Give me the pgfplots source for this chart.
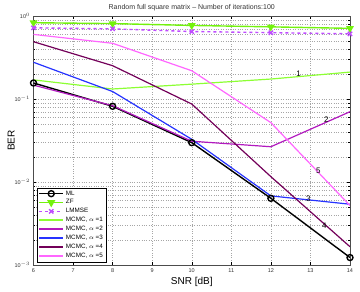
\documentclass[border=0pt]{standalone}
\usepackage{pgfplots}
\pgfplotsset{compat=1.18}
\usepackage{fontspec}
\setmainfont{Liberation Sans}
\definecolor{cZF}{rgb}{0.45,0.95,0.05}
\definecolor{cLM}{rgb}{0.75,0.3,1.0}
\definecolor{cM1}{rgb}{0.55,1.0,0.2}
\definecolor{cM2}{rgb}{0.7,0.1,0.75}
\definecolor{cM3}{rgb}{0.15,0.2,1.0}
\definecolor{cM4}{rgb}{0.45,0.0,0.35}
\definecolor{cM5}{rgb}{1.0,0.4,1.0}
\begin{document}
\begin{tikzpicture}
\begin{axis}[
  scale only axis,
  width=316.5pt, height=249pt,
  ymode=log,
  xmin=6, xmax=14, ymin=1e-3, ymax=1,
  xtick={6,7,...,14},
  ytick={1e-3,1e-2,1e-1,1},
  yticklabels={10$^{-3}$,10$^{-2}$,10$^{-1}$,10$^{0}$},
  tick align=inside,
  tick style={black, thin},
  major tick length=3pt, minor tick length=1.5pt,
  grid=both,
  major grid style={dotted, gray!70},
  minor grid style={dotted, gray!70},
  minor x tick num=0,
  axis line style={black!70},
  tick label style={font=\fontsize{5.5}{6.5}\selectfont, black!80},
  /pgf/number format/assume math mode=true,
  xlabel={SNR [dB]},
  ylabel={BER},
  label style={font=\fontsize{10}{12}\selectfont},
  xlabel style={yshift=2pt},
  ylabel style={yshift=-7pt},
  title={Random full square matrix -- Number of iterations:100},
  title style={font=\fontsize{7}{8}\selectfont, yshift=-4pt, black!80},
  legend style={font=\fontsize{6.3}{7.3}\selectfont, draw=black, inner sep=1pt, row sep=-1pt, legend cell align=left, at={(0.012,0.012)}, anchor=south west},
  legend image code/.code={\draw[mark repeat=2,mark phase=2,line width=1.6pt] plot coordinates {(0cm,0cm) (0.42cm,0cm) (0.84cm,0cm)};},
]
\coordinate (sw) at (rel axis cs:0,0);
\coordinate (ne) at (rel axis cs:1,1);
\addplot[black, line width=1.4pt, mark=o, mark size=3pt, mark options={line width=1.4pt}] coordinates {(6,0.156) (8,0.0817) (10,0.0298) (12,0.00636) (14,0.00123)};
\addlegendentry{ML}
\addplot[cZF, line width=1.4pt, mark=triangle*, mark size=3.2pt, mark options={rotate=180}] coordinates {(6,0.83) (8,0.81) (10,0.77) (12,0.74) (14,0.71)};
\addlegendentry{ZF}
\addplot[cLM, line width=1.4pt, dashed, mark=x, mark size=3pt, mark options={solid, line width=1.4pt}] coordinates {(6,0.72) (8,0.70) (10,0.65) (12,0.63) (14,0.61)};
\addlegendentry{LMMSE}
\addplot[cM1, line width=1.2pt] coordinates {(6,0.17) (8,0.132) (10,0.151) (12,0.174) (14,0.211)};
\addlegendentry{MCMC, $\alpha$ =1}
\addplot[cM2, line width=1.2pt] coordinates {(6,0.147) (8,0.083) (10,0.031) (12,0.0266) (14,0.0703)};
\addlegendentry{MCMC, $\alpha$ =2}
\addplot[cM3, line width=1.2pt] coordinates {(6,0.277) (8,0.123) (10,0.0327) (12,0.0068) (14,0.0054)};
\addlegendentry{MCMC, $\alpha$ =3}
\addplot[cM4, line width=1.2pt] coordinates {(6,0.49) (8,0.252) (10,0.087) (12,0.0116) (14,0.00166)};
\addlegendentry{MCMC, $\alpha$ =4}
\addplot[cM5, line width=1.2pt] coordinates {(6,0.60) (8,0.469) (10,0.219) (12,0.0519) (14,0.0052)};
\addlegendentry{MCMC, $\alpha$ =5}
\node[font=\fontsize{8}{9}\selectfont] at (axis cs:12.7,0.20) {1};
\node[font=\fontsize{8}{9}\selectfont] at (axis cs:13.4,0.056) {2};
\node[font=\fontsize{8}{9}\selectfont] at (axis cs:12.95,0.0062) {3};
\node[font=\fontsize{8}{9}\selectfont] at (axis cs:13.35,0.0030) {4};
\node[font=\fontsize{8}{9}\selectfont] at (axis cs:13.2,0.0135) {5};
\end{axis}
\pgfresetboundingbox
\path (sw) ++(-33.5pt,-26pt) coordinate (a);
\path (ne) ++(10pt,16pt) coordinate (b);
\path (a) rectangle (b);
\end{tikzpicture}
\end{document}
